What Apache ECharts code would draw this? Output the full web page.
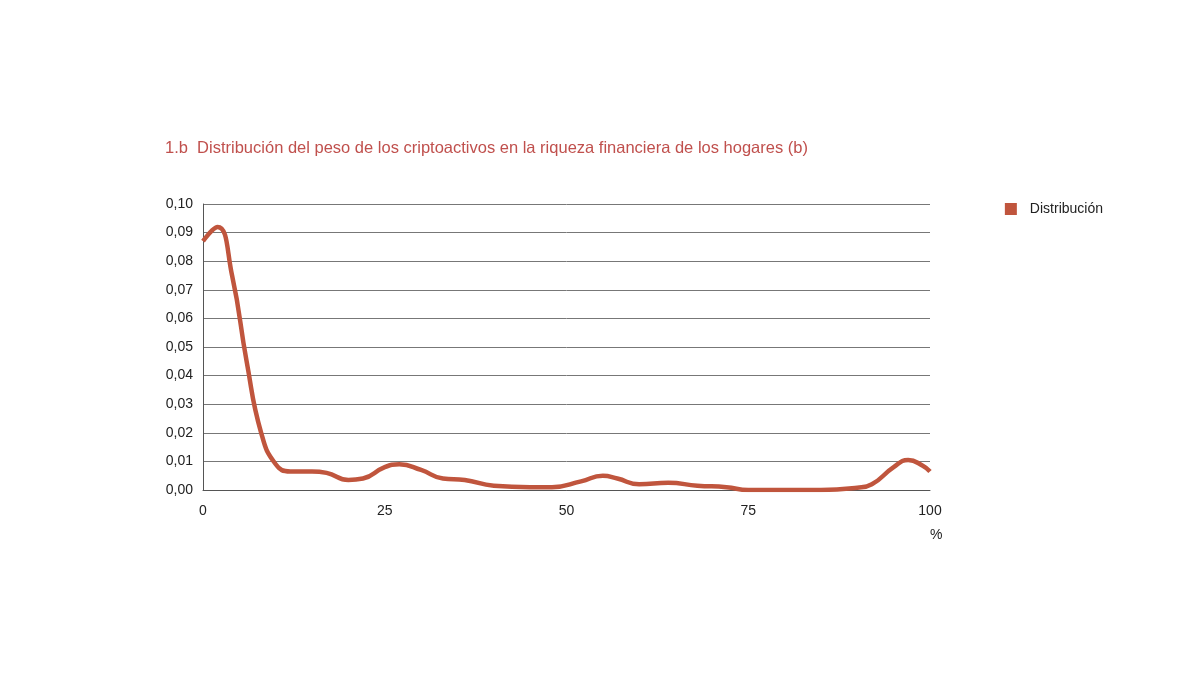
<!DOCTYPE html>
<html lang="es">
<head>
<meta charset="UTF-8">
<title>Distribución</title>
<script src="https://cdn.jsdelivr.net/npm/echarts@6/dist/echarts.min.js"></script>
</head>
<body style="margin:0;background:#fff">
<div id="main" style="width:1200px;height:675px;"></div>
<script>
var xVals = [0, 2, 4, 6, 8, 10, 12, 15, 17, 20, 22, 25, 27, 30, 33, 36, 40, 45, 48, 52, 55, 57, 60, 64, 68, 72, 75, 80, 85, 90, 92, 95, 97, 99, 100];
var yVals = [0.087, 0.092, 0.075, 0.045, 0.02, 0.009, 0.0065, 0.0065, 0.006, 0.0035, 0.004, 0.008, 0.009, 0.007, 0.004, 0.0035, 0.0015, 0.001, 0.001, 0.003, 0.005, 0.004, 0.002, 0.0025, 0.0015, 0.001, 0, 0, 0, 0.0008, 0.002, 0.008, 0.0105, 0.0085, 0.0065];
var seriesName = 'Distribución';

var points = [];
for (var i = 0; i < xVals.length; i++) points.push([xVals[i], yVals[i]]);

var myChart = echarts.init(document.getElementById('main'));
var option = {
	animation: false,
	textStyle: { fontFamily: 'Liberation Sans, Arial, sans-serif' },
	title: {
		text: '1.b  Distribución del peso de los criptoactivos en la riqueza financiera de los hogares (b)',
		left: 160, top: 135,
		textStyle: { color: '#c0504d', fontSize: 16.5, fontWeight: 'normal' }
	},
	legend: {
		right: 92, top: 197, icon: 'rect', itemWidth: 12, itemHeight: 12,
		textStyle: { color: '#222', fontSize: 14, padding: [0, 0, 0, 8] },
		data: [seriesName]
	},
	grid: { left: 203, right: 270, top: 204, bottom: 185 },
	xAxis: {
		type: 'value', min: 0, max: 100, interval: 25,
		name: '%', nameLocation: 'end', nameGap: 0,
		nameTextStyle: { color: '#222', fontSize: 14, padding: [38, 0, 0, 0], verticalAlign: 'top' },
		axisLine: { lineStyle: { color: '#555' } },
		axisTick: { show: false },
		splitLine: { show: false },
		axisLabel: { color: '#222', fontSize: 14, margin: 14 }
	},
	yAxis: {
		type: 'value', min: 0, max: 0.1, interval: 0.01,
		axisLine: { show: true, lineStyle: { color: '#555' } },
		axisTick: { show: false },
		splitLine: { lineStyle: { color: '#777', width: 1 } },
		axisLabel: {
			color: '#222', fontSize: 14, margin: 10,
			formatter: function (v) { return v.toFixed(2).replace('.', ','); }
		}
	},
	series: [{
		name: seriesName, type: 'line', smooth: 0.5, symbol: 'none',
		itemStyle: { color: '#c0553d' },
		lineStyle: { color: '#c0553d', width: 4.5 },
		data: points
	}]
};
myChart.setOption(option);
</script>
</body>
</html>
